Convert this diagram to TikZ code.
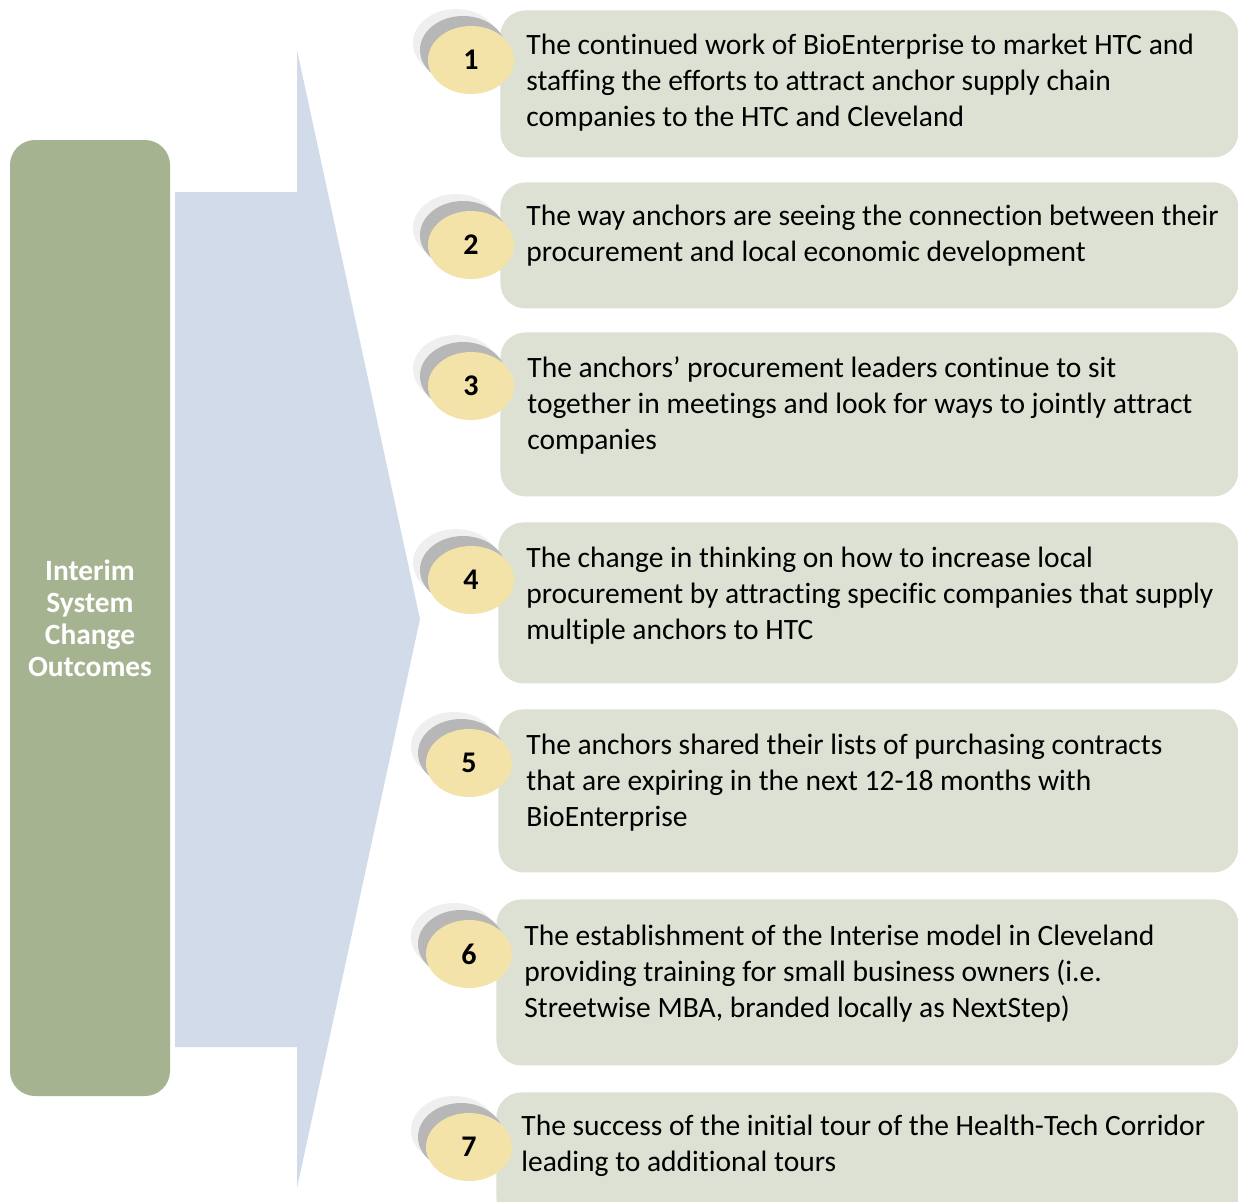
\documentclass[tikz,border=0pt]{standalone}
\usepackage{fontspec}
\setmainfont{Carlito}[Ligatures={NoCommon}]
\usepackage{tikz}
\usetikzlibrary{shapes.geometric}
\definecolor{sage}{HTML}{A5B390}
\definecolor{flow}{HTML}{D1DBE9}
\definecolor{card}{HTML}{DCE1D3}
\definecolor{bulb}{HTML}{F3E3A8}
\definecolor{halo}{HTML}{EFEFEF}
\definecolor{shade}{HTML}{B7B7B7}
\tikzstyle{outcome}=[fill=card, rounded corners=12.5pt, inner sep=0pt, anchor=north west]
\tikzstyle{label}=[inner sep=0pt, anchor=base west, font=\fontsize{14.75}{18}\selectfont]
\tikzstyle{badge}=[ellipse, fill=bulb, minimum width=43pt, minimum height=34pt, inner sep=0pt, font=\fontsize{15}{16}\selectfont\bfseries]
\tikzstyle{ring}=[ellipse, minimum width=43pt, minimum height=34pt, inner sep=0pt]

\begin{document}
\begin{tikzpicture}[x=0.5pt, y=-0.5pt]
        \useasboundingbox (0,0) rectangle (1238,1201);
        \clip (0,0) rectangle (1238,1201);
        % left bar and arrow
        \node[fill=sage, rounded corners=12.5pt, minimum width=80pt, minimum height=478pt, text=white,
              align=center, font=\fontsize{14.7}{16}\selectfont\bfseries] (head) at (90,618)
              {Interim\\System\\Change\\Outcomes};
        \fill[flow] (175,192) -- (297,192) -- (297,50) -- (420,619) -- (297,1188) -- (297,1047) -- (175,1047) -- cycle;
        % outcome cards
        \node[outcome, minimum width=369pt, minimum height=73.5pt] (o1) at (500,10) {};
        \node[outcome, minimum width=369pt, minimum height=63pt] (o2) at (500,182) {};
        \node[outcome, minimum width=369pt, minimum height=82pt] (o3) at (500,332) {};
        \node[outcome, minimum width=370pt, minimum height=80.5pt] (o4) at (498,522) {};
        \node[outcome, minimum width=370pt, minimum height=81.5pt] (o5) at (498,709) {};
        \node[outcome, minimum width=371pt, minimum height=83pt] (o6) at (496,899) {};
        \node[outcome, minimum width=371pt, minimum height=65pt] (o7) at (496,1092) {};
        \node[label] (t1) at (526,54) {\parbox[t]{360pt}{The continued work of BioEnterprise to market HTC and\\staffing the efforts to attract anchor supply chain\\companies to the HTC and Cleveland}};
        \node[label] (t2) at (526,225) {\parbox[t]{360pt}{The way anchors are seeing the connection between their\\procurement and local economic development}};
        \node[label] (t3) at (527,377) {\parbox[t]{360pt}{The anchors’ procurement leaders continue to sit\\together in meetings and look for ways to jointly attract\\companies}};
        \node[label] (t4) at (526,567) {\parbox[t]{360pt}{The change in thinking on how to increase local\\procurement by attracting specific companies that supply\\multiple anchors to HTC}};
        \node[label] (t5) at (526,754) {\parbox[t]{360pt}{The anchors shared their lists of purchasing contracts\\that are expiring in the next 12-18 months with\\BioEnterprise}};
        \node[label] (t6) at (524,945) {\parbox[t]{360pt}{The establishment of the Interise model in Cleveland\\providing training for small business owners (i.e.\\Streetwise MBA, branded locally as NextStep)}};
        \node[label] (t7) at (521,1135) {\parbox[t]{360pt}{The success of the initial tour of the Health-Tech Corridor\\leading to additional tours}};
        % numbered badges
        \foreach \n/\bx/\by in {1/471/60, 2/471/245, 3/471/386, 4/471/580, 5/469/763, 6/469/954, 7/469/1147} {
            \node[ring, fill=halo] (h\n) at (\bx-15,\by-17) {};
            \node[ring, fill=shade] (s\n) at (\bx-8,\by-10) {};
            \node[badge] (n\n) at (\bx,\by) {\raisebox{-1.5pt}{\n}};
        }
    \end{tikzpicture}
\end{document}
